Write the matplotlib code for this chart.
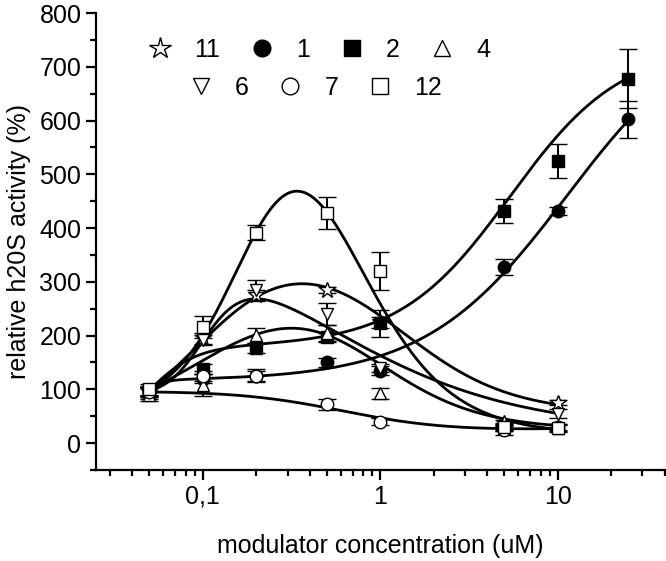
import numpy as np
import matplotlib
matplotlib.use("Agg")
import matplotlib.pyplot as plt
from matplotlib.lines import Line2D
from matplotlib.ticker import FixedLocator, FixedFormatter, LogLocator, MultipleLocator, NullFormatter

plt.rcParams['font.family'] = ['Liberation Sans', 'DejaVu Sans']

# concentrations (uM)
conc = [0.05, 0.1, 0.2, 0.5, 1, 5, 10]
conc_long = [0.05, 0.1, 0.2, 0.5, 1, 5, 10, 25]

# measured activity (%) and error
c11_y = [95, 195, 275, 285, 225, 38, 75]
c11_err = [10, 10, 10, 6, 10, 5, 5]
c1_y = [95, 120, 125, 150, 135, 328, 432, 602]
c1_err = [12, 8, 10, 8, 8, 15, 8, 35]
c2_y = [95, 138, 177, 197, 223, 432, 525, 678]
c2_err = [10, 10, 10, 8, 25, 22, 32, 55]
c4_y = [90, 108, 201, 205, 93, 28, 28]
c4_err = [12, 20, 14, 15, 10, 6, 6]
c6_y = [95, 192, 285, 240, 140, 30, 55]
c6_err = [8, 10, 18, 20, 8, 5, 8]
c7_y = [95, 125, 125, 72, 40, 24, 30]
c7_err = [8, 10, 12, 10, 6, 8, 5]
c12_y = [100, 216, 391, 428, 320, 30, 28]
c12_err = [10, 20, 14, 30, 35, 8, 8]

# biphasic dose-response fit parameters: A0, A1, logx01, h1, A2, logx02, h2
fit11 = [0.0, 400.867, -1.002, 1.545, 54.886, 0.072, 1.384]
fit1 = [0.258, 115.982, -1.383, 8.0, 804.923, 1.052, 1.086]
fit2 = [0.0, 179.665, -1.324, 3.153, 739.269, 0.732, 1.386]
fit4 = [6.052, 480.883, -0.781, 1.059, 26.114, -0.129, 1.365]
fit6 = [150.0, 458.266, -1.003, 3.546, 22.009, -0.422, 0.762]
fit7 = [91.133, 0.0, -0.203, 1.385, 47.848, 0.883, 0.361]
fit12 = [66.038, 1000.014, -0.727, 2.071, 15.648, -0.267, 1.569]


def bidose(x, p):
    a0, a1, c1, h1, a2, c2, h2 = p
    lx = np.log10(x)
    return a0 + (a1 - a0) / (1 + 10 ** ((c1 - lx) * h1)) + (a2 - a1) / (1 + 10 ** ((c2 - lx) * h2))


# name, marker, face colour, x, y, err, fit, last x of fit line
series = [
    ("11", "*", "white", conc, c11_y, c11_err, fit11, 10),
    ("1", "o", "black", conc_long, c1_y, c1_err, fit1, 25),
    ("2", "s", "black", conc_long, c2_y, c2_err, fit2, 25),
    ("4", "^", "white", conc, c4_y, c4_err, fit4, 10),
    ("6", "v", "white", conc, c6_y, c6_err, fit6, 10),
    ("7", "o", "white", conc, c7_y, c7_err, fit7, 10),
    ("12", "s", "white", conc, c12_y, c12_err, fit12, 10),
]

fig = plt.figure(figsize=(6.66, 5.61), dpi=100)
ax = fig.add_axes([0.1441, 0.1622, 0.8539, 0.8146])

for name, mk, face, xs, ys, err, p, xend in series:
    xx = np.logspace(np.log10(xs[0]), np.log10(xend), 300)
    ax.plot(xx, bidose(xx, p), color="black", lw=2.0, zorder=2)

for name, mk, face, xs, ys, err, p, xend in series:
    ms = 12 if mk == "*" else 9
    ax.errorbar(xs, ys, yerr=err, fmt=mk, ms=ms, mfc=face, mec="black", mew=1.0,
                ecolor="black", elinewidth=1.4, capsize=6.5, capthick=1.4, zorder=3)

ax.set_xscale("log")
ax.set_xlim(0.025, 40)
ax.set_ylim(-50, 800)
ax.xaxis.set_major_locator(FixedLocator([0.1, 1, 10]))
ax.xaxis.set_major_formatter(FixedFormatter(["0,1", "1", "10"]))
ax.xaxis.set_minor_locator(LogLocator(base=10, subs=np.arange(2, 10), numticks=20))
ax.xaxis.set_minor_formatter(NullFormatter())
ax.yaxis.set_major_locator(MultipleLocator(100))
ax.yaxis.set_minor_locator(MultipleLocator(50))

for s in ["top", "right"]:
    ax.spines[s].set_visible(False)
for s in ["left", "bottom"]:
    ax.spines[s].set_linewidth(1.6)
ax.tick_params(which="major", length=7, width=1.6, labelsize=18, direction="out")
ax.tick_params(which="minor", length=4, width=1.6, direction="out")

ax.set_xlabel("modulator concentration (uM)", fontsize=18, labelpad=18)
ax.set_ylabel("relative h20S activity (%)", fontsize=18, labelpad=6)

handles = []
for name, mk, face, *_ in series:
    ms = 16 if mk == "*" else 12
    handles.append(Line2D([], [], ls="none", marker=mk, ms=ms, mfc=face, mec="black", mew=1.0, label=name))

fig.legend(handles=handles[:4], ncol=4, loc="center", bbox_to_anchor=(0.479, 0.911),
           frameon=False, fontsize=18, handlelength=1.0, handletextpad=0.86,
           columnspacing=1.18, borderpad=0.1)
fig.legend(handles=handles[4:], ncol=3, loc="center", bbox_to_anchor=(0.473, 0.843),
           frameon=False, fontsize=18, handlelength=1.0, handletextpad=0.86,
           columnspacing=1.18, borderpad=0.1)

fig.savefig("out.png", dpi=100)
